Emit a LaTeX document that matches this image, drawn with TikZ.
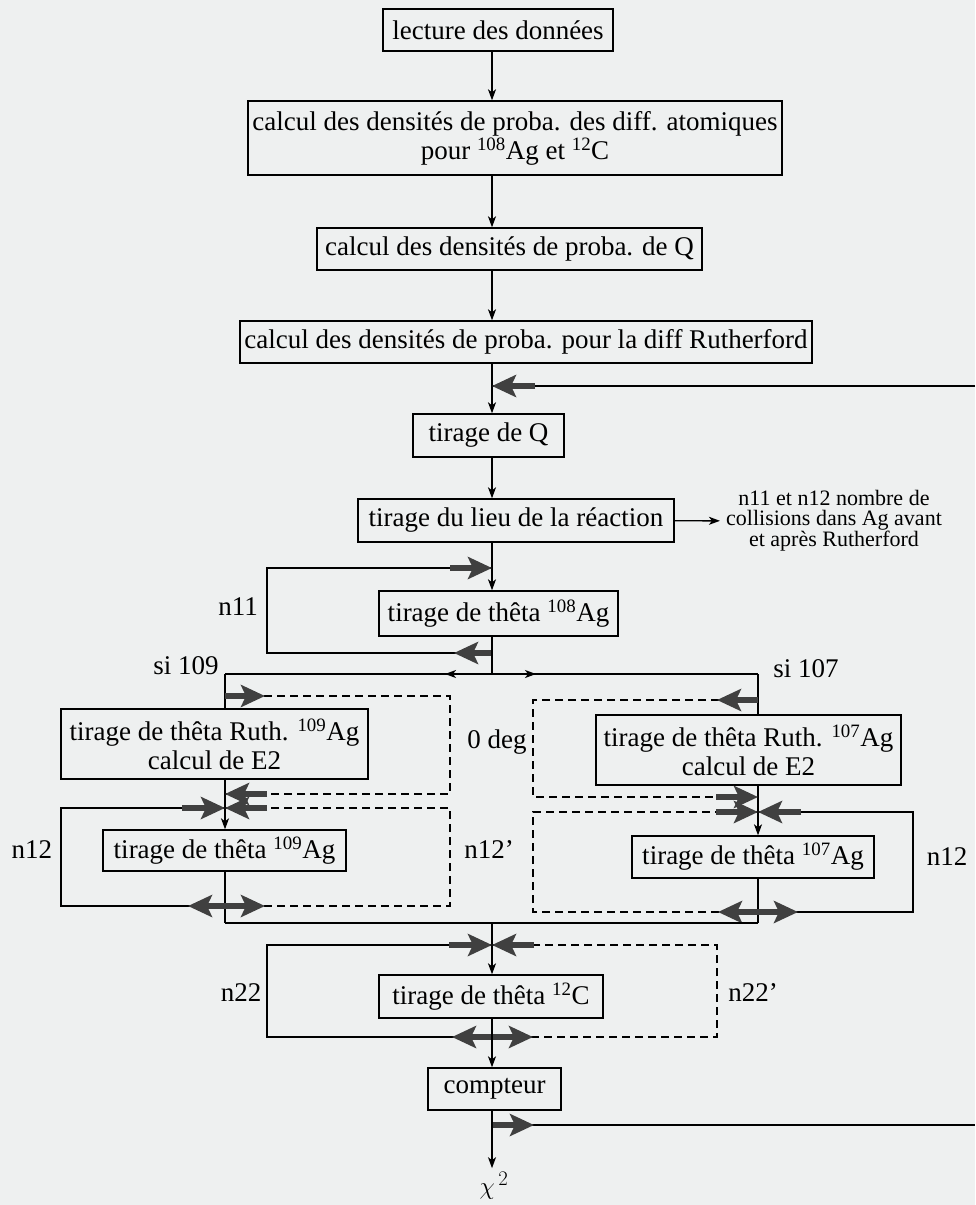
\documentclass[tikz,border=0pt]{standalone}
\usepackage{fontspec}
\setmainfont{Liberation Serif}
\usetikzlibrary{positioning,arrows.meta}
\definecolor{paper}{RGB}{238,240,240}
\tikzset{
  box/.style={draw, line width=1.4pt, align=center, font=\fontsize{27}{29}\selectfont, inner sep=0pt},
  lab/.style={font=\fontsize{27}{29}\selectfont, inner sep=0pt},
  note/.style={align=center, font=\fontsize{22}{20}\selectfont, inner sep=6pt},
  line/.style={line width=1.4pt},
  arr/.style={line, -{Stealth[length=11pt, width=8pt, inset=3pt]}},
  opt/.style={line width=1.3pt, dash pattern=on 8pt off 5pt},
  fat/.style={draw=black!75, line width=6pt, -{Stealth[length=24pt, width=22pt, inset=5pt]}},
  fatboth/.style={draw=black!75, line width=6pt, {Stealth[length=24pt, width=22pt, inset=5pt]}-{Stealth[length=24pt, width=22pt, inset=5pt]}}
}

\begin{document}
\begin{tikzpicture}[x=1pt, y=-1pt]
\fill[paper] (0,0) rectangle (975,1205);
\useasboundingbox (0,0) rectangle (975,1205);
% main column
\node[box, minimum width=230pt, minimum height=42pt] (lect) at (498,30) {lecture des données};
\node[box, minimum width=534pt, minimum height=74pt] (atom) at (515,138) {calcul des densités de proba. des diff. atomiques\\pour \textsuperscript{108}Ag et \textsuperscript{12}C};
\node[box, minimum width=385pt, minimum height=42pt] (denQ) at (509.5,249) {calcul des densités de proba. de Q};
\node[box, minimum width=572pt, minimum height=42pt] (ruth) at (526,342) {calcul des densités de proba. pour la diff Rutherford};
\node[box, minimum width=151pt, minimum height=43pt] (tirQ) at (488.5,435.5) {tirage de Q};
\node[box, minimum width=316pt, minimum height=43pt] (lieu) at (516,520.5) {tirage du lieu de la réaction};
\node[note] (coll) at (834,521) {n11 et n12 nombre de\\collisions dans Ag avant\\et après Rutherford};
\node[box, minimum width=239pt, minimum height=45pt] (th108) at (498.5,613.5) {tirage de thêta \textsuperscript{108}Ag};
% two branches
\node[box, minimum width=307pt, minimum height=70pt] (rth109) at (214.5,744) {tirage de thêta Ruth. \textsuperscript{109}Ag\\calcul de E2};
\node[box, minimum width=243pt, minimum height=41pt] (th109) at (224.5,850.5) {tirage de thêta \textsuperscript{109}Ag};
\node[box, minimum width=305pt, minimum height=70pt] (rth107) at (748.5,750) {tirage de thêta Ruth. \textsuperscript{107}Ag\\calcul de E2};
\node[box, minimum width=242pt, minimum height=42pt] (th107) at (753,857) {tirage de thêta \textsuperscript{107}Ag};
\node[box, minimum width=224pt, minimum height=43pt] (th12) at (491,996.5) {tirage de thêta \textsuperscript{12}C};
\node[box, minimum width=133pt, minimum height=42pt] (cpt) at (494.5,1089) {compteur};
\node[lab, font=\fontsize{32}{34}\selectfont] (chi) at (494,1186) {$\chi^{\,2}$};
% labels
\node[lab] (ln11) at (238,607) {n11};
\node[lab] (si109) at (186,666) {si 109};
\node[lab] (si107) at (806,669) {si 107};
\node[lab] (zero) at (497,742) {0 deg};
\node[lab] (ln12a) at (32,850) {n12};
\node[lab] (ln12p) at (489,850) {n12'};
\node[lab] (ln12b) at (947,857) {n12};
\node[lab] (ln22) at (241,993) {n22};
\node[lab] (ln22p) at (753,993) {n22'};
% junctions
\coordinate (back) at (492,386);
\coordinate (backR) at (975,386);
\coordinate (n11t) at (267,568);
\coordinate (n11b) at (267,653);
\coordinate (split) at (492,674);
\coordinate (mL) at (445,674);
\coordinate (mR) at (536,674);
\coordinate (c109) at (225,674);
\coordinate (c107) at (758,674);
\coordinate (L0) at (225,696);
\coordinate (L1) at (225,794);
\coordinate (L2) at (225,808);
\coordinate (L3) at (225,906);
\coordinate (Ld) at (450,696);
\coordinate (Lo) at (61,808);
\coordinate (R0) at (758,700);
\coordinate (R1) at (758,797);
\coordinate (R2) at (758,812);
\coordinate (R3) at (758,912);
\coordinate (Rd) at (533,700);
\coordinate (Ro) at (913,812);
\coordinate (jL) at (225,923);
\coordinate (jR) at (758,923);
\coordinate (join) at (492,923);
\coordinate (C1) at (492,945);
\coordinate (C3) at (492,1037);
\coordinate (Co) at (267,945);
\coordinate (Cd) at (717,945);
\coordinate (cnt) at (492,1125);
\coordinate (cntR) at (975,1125);
% top of the chain
\draw[arr] (lect.south -| back) -- (atom.north -| back);
\draw[arr] (atom.south -| back) -- (denQ.north -| back);
\draw[arr] (denQ.south -| back) -- (ruth.north -| back);
\draw[arr] (ruth.south -| back) -- (tirQ.north -| back);
\draw[line] (backR) -- (back);
\draw[fat] ([xshift=43pt]back) -- (back);
\draw[arr] (tirQ.south -| back) -- (lieu.north -| back);
\draw[arr] (lieu) -- (coll);
\draw[arr] (lieu.south -| back) -- (th108.north -| back);
% loop n11
\draw[line] (back |- n11b) -- (n11b) -- (n11t) -- (back |- n11t);
\draw[fat] ([xshift=-42pt]back |- n11t) -- (back |- n11t);
\draw[fat] (back |- n11b) -- ([xshift=-38pt]back |- n11b);
% split 109 / 107
\draw[line] (th108.south -| split) -- (split);
\draw[line] (c109) -- (c107);
\draw[arr] (split) -- (mL);
\draw[arr] (split) -- (mR);
\draw[line] (c109) -- (c109 |- rth109.north);
\draw[line] (c107) -- (c107 |- rth107.north);
% branch 109
\draw[arr] (c109 |- rth109.south) -- (c109 |- th109.north);
\draw[line] (c109 |- th109.south) -- (jL);
\draw[opt] (L0) -- (Ld) -- (Ld |- L1) -- (L1);
\draw[fat] (L0) -- ([xshift=40pt]L0);
\draw[fat] ([xshift=42pt]L1) -- (L1);
\draw[line] (L3) -- (Lo |- L3) -- (Lo) -- (L2);
\draw[fat] ([xshift=-43pt]L2) -- (L2);
\draw[opt] (L3) -- (Ld |- L3) -- (Ld |- L2) -- (L2);
\draw[fat] ([xshift=42pt]L2) -- (L2);
\draw[fatboth] ([xshift=-37pt]L3) -- ([xshift=40pt]L3);
% branch 107
\draw[arr] (c107 |- rth107.south) -- (c107 |- th107.north);
\draw[line] (c107 |- th107.south) -- (jR);
\draw[opt] (R0) -- (Rd) -- (Rd |- R1) -- (R1);
\draw[fat] (R0) -- ([xshift=-41pt]R0);
\draw[fat] ([xshift=-42pt]R1) -- (R1);
\draw[line] (R3) -- (Ro |- R3) -- (Ro) -- (R2);
\draw[fat] ([xshift=43pt]R2) -- (R2);
\draw[opt] (R3) -- (Rd |- R3) -- (Rd |- R2) -- (R2);
\draw[fat] ([xshift=-42pt]R2) -- (R2);
\draw[fatboth] ([xshift=-40pt]R3) -- ([xshift=40pt]R3);
% carbon
\draw[line] (jL) -- (jR);
\draw[arr] (join) -- (th12.north -| join);
\draw[line] (C3) -- (Co |- C3) -- (Co) -- (C1);
\draw[fat] ([xshift=-43pt]C1) -- (C1);
\draw[opt] (C3) -- (Cd |- C3) -- (Cd) -- (C1);
\draw[fat] ([xshift=42pt]C1) -- (C1);
\draw[fatboth] ([xshift=-40pt]C3) -- ([xshift=41pt]C3);
\draw[arr] (th12.south -| C3) -- (cpt.north -| C3);
% counter and exit
\draw[line] (cnt) -- (cntR);
\draw[fat] (cnt) -- ([xshift=42pt]cnt);
\draw[arr, shorten >=4pt] (cpt.south -| cnt) -- (chi.north -| cnt);
\end{tikzpicture}
\end{document}
